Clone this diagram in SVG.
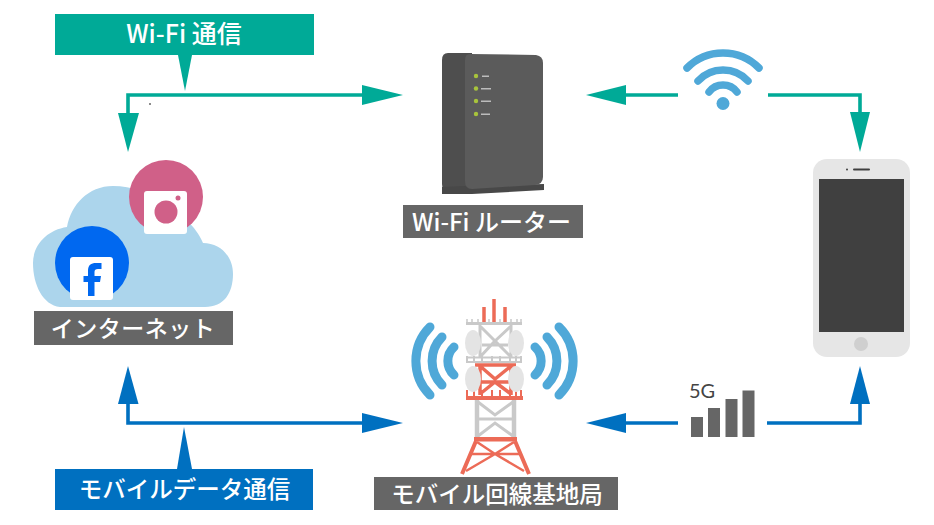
<svg xmlns="http://www.w3.org/2000/svg" width="934" height="525" viewBox="0 0 934 525">
<style>
  .lbl { font-family: "Noto Sans CJK JP", "Noto Sans", sans-serif; font-size: 23.500px; font-weight: 500; fill: #fff; text-anchor: middle; }
  .plate { fill: #666; }
  .teal { fill: #00aa97; }
  .blue { fill: #0070c0; }
  .wire { fill: none; stroke-width: 3.600; }
  .wire.t { stroke: #00aa97; }
  .wire.b { stroke: #0070c0; }
  .wave { fill: none; stroke: #4fa8d8; stroke-linecap: round; }
  .g { stroke: #c9c9c9; fill: none; }
  .r { stroke: #ec6b57; fill: none; }
  .dish { fill: #e4e4e4; }
  .led { fill: #a8c43c; }
  .tick { fill: #dcdcdc; opacity: .75; }
  .bar { fill: #666; }
</style>
<rect width="934" height="525" fill="#fff"/>

<g id="connectors">
  <path class="wire t" d="M365 95H128V114"/>
  <polygon class="teal" points="403,95 362,85 362,105"/>
  <polygon class="teal" points="128,152 118,113 139,113"/>
  <path class="wire t" d="M625 95H678"/>
  <polygon class="teal" points="586,95 626,85 626,105"/>
  <path class="wire t" d="M768 95H860V114"/>
  <polygon class="teal" points="860,152 850,112 870,112"/>
  <path class="wire b" d="M128 403V423H365"/>
  <polygon class="blue" points="128,366 118,404 138.500,404"/>
  <polygon class="blue" points="403,423 362,413 362,433"/>
  <path class="wire b" d="M625 423H678"/>
  <polygon class="blue" points="586,423 626,413 626,433"/>
  <path class="wire b" d="M767 423H860V403"/>
  <polygon class="blue" points="860,366 850,404 870,404"/>
</g>

<g id="wifi-callout">
  <rect class="teal" x="55" y="14" width="259" height="41"/>
  <polygon class="teal" points="178,55 192,55 185,91"/>
  <text class="lbl" x="184" y="43" style="font-size:25px">Wi-Fi 通信</text>
</g>
<circle id="speck" cx="150" cy="104" r="1" fill="#666"/>

<g id="mobile-callout">
  <rect class="blue" x="55" y="469" width="258" height="41"/>
  <polygon class="blue" points="177,469 192,469 184,427"/>
  <text class="lbl" x="184.500" y="498">モバイルデータ通信</text>
</g>

<g id="internet">
  <path fill="#acd5ec" d="M60 307C43 305 33 285 33 263C33 245 47 230 67 227C71 205 88 186 113 186C132 186 150 192 163 206C180 212 196 226 203 243C220 243 233 256 233 274C233 293 224 307 205 307Z"/>
  <circle cx="166" cy="197" r="37" fill="#d06088"/>
  <rect x="144" y="191" width="43" height="43" rx="3" fill="#fff"/>
  <circle cx="166" cy="212" r="11.500" fill="#d06088"/>
  <circle cx="178" cy="198" r="2.500" fill="#d06088"/>
  <circle cx="92" cy="263" r="37" fill="#0068f0"/>
  <rect x="70" y="257" width="43" height="43" rx="3" fill="#fff"/>
  <path fill="#0068f0" d="M88 296V282H83.500V276H88V271C88 265 91 263 96 263H101.500V269H98C95.500 269 94.500 270 94.500 272V276H101L100 282H94.500V296Z"/>
  <rect class="plate" x="34" y="311" width="199" height="34"/>
  <text class="lbl" x="133" y="337" style="font-size:23px" letter-spacing="0.500">インターネット</text>
</g>

<g id="router">
  <path fill="#4e4e4e" d="M448 53H472V190H447Q442 190 442 184V60Q442 53 448 53Z"/>
  <path fill="#484848" d="M442 187L465 186L544 184V190L472 194H442Z"/>
  <path fill="#5b5b5b" d="M470 54L536 55Q543 56 543 63V177Q543 184 535 185L472 189Q465 189 465 181V60Q465 54 470 54Z"/>
  <circle class="led" cx="476" cy="76" r="2.200"/>
  <circle class="led" cx="476" cy="88.500" r="2.200"/>
  <circle class="led" cx="476" cy="101" r="2.200"/>
  <circle class="led" cx="476" cy="114" r="2.200"/>
  <rect class="tick" x="482" y="75.500" width="7" height="1.500"/>
  <rect class="tick" x="481" y="88" width="10" height="1.500"/>
  <rect class="tick" x="481" y="100.500" width="10" height="1.500"/>
  <rect class="tick" x="481" y="113.500" width="9" height="1.500"/>
  <rect class="plate" x="403" y="205" width="180" height="33"/>
  <text class="lbl" x="491.500" y="231" style="font-size:24px">Wi-Fi ルーター</text>
</g>

<g id="wifi-signal">
  <path class="wave" stroke-width="7.500" d="M687 68A50.700 50.700 0 0 1 759 68"/>
  <path class="wave" stroke-width="7.500" d="M698 81A34 34 0 0 1 748 81"/>
  <path class="wave" stroke-width="7.500" d="M709 92A17.500 17.500 0 0 1 737 92"/>
  <circle cx="723" cy="103.500" r="6.500" fill="#4fa8d8"/>
</g>

<g id="phone">
  <rect x="813" y="159" width="97" height="198" rx="14" fill="#e6e6e6"/>
  <rect x="819" y="179" width="85" height="153" fill="#404040"/>
  <circle cx="861" cy="344" r="7" fill="#cfcfcf"/>
  <rect x="853" y="168.500" width="17" height="2" rx="1" fill="#404040"/>
  <circle cx="847" cy="169.500" r="1" fill="#404040"/>
</g>

<g id="signal-5g">
  <text x="689" y="398" font-family="Lato, 'Noto Sans', sans-serif" font-size="20" fill="#444">5G</text>
  <rect class="bar" x="691" y="417" width="12" height="20"/>
  <rect class="bar" x="708" y="408" width="12" height="29"/>
  <rect class="bar" x="725.500" y="399" width="12" height="38"/>
  <rect class="bar" x="742.500" y="390.500" width="12" height="46.500"/>
</g>

<g id="tower">
  <!-- radio waves either side of the mast -->
  <g class="wave" stroke-width="9">
    <path d="M430 327A48 48 0 0 0 430 395"/>
    <path d="M442 337A34 34 0 0 0 442 385"/>
    <path d="M454 347A19 19 0 0 0 454 375"/>
    <path d="M559 327A48 48 0 0 1 559 395"/>
    <path d="M547 337A34 34 0 0 1 547 385"/>
    <path d="M535 347A19 19 0 0 1 535 375"/>
  </g>
  <!-- aerials -->
  <path class="r" stroke-width="3.500" d="M484 307V323M505 307V323"/>
  <path class="r" stroke-width="3.500" d="M494 299V323"/>
  <!-- top grey section -->
  <path class="g" stroke-width="3" d="M466 323.500H522"/>
  <path class="g" stroke-width="1.500" d="M467 319V324M472 319V324M478 319V324M489 319V324M500 319V324M511 319V324M517 319V324M521 319V324"/>
  <path class="g" stroke-width="3" d="M480 325V357M511 325V357M480 326L495 341L511 326M482 345H508M480 357L495 341L511 357"/>
  <path class="g" stroke-width="2" d="M466 357.500H522M466 362H522M467 356V363M474 356V363M482 356V363M492 356V363M500 356V363M510 356V363M516 356V363M521 356V363"/>
  <!-- red section -->
  <path class="r" stroke-width="3.500" d="M480 365V395M511 365V395M475 365H516M480 366L495 379L511 366M478 382H513M480 394L495 382L511 394"/>
  <rect x="466" y="396" width="57" height="4" fill="#ec6b57"/>
  <path class="r" stroke-width="2" d="M467 390V397M474 390V397M482 390V397M492 390V397M500 390V397M510 390V397M516 390V397M521 390V397"/>
  <!-- lower grey section -->
  <path class="g" stroke-width="4.500" d="M477 400V437M514 400V437"/>
  <path class="g" stroke-width="3" d="M478 402L495 415L513 402M478 419H513M478 436L495 423L513 436"/>
  <!-- red base -->
  <rect x="474" y="437" width="43" height="4.500" fill="#ec6b57"/>
  <path class="r" stroke-width="4" d="M476 441L462 474M515 441L529 474"/>
  <path class="r" stroke-width="2.500" d="M477 442L495 454L524 471M514 442L495 454L466 471M471 454H520"/>
  <ellipse class="dish" cx="473" cy="343" rx="8" ry="13"/>
  <ellipse class="dish" cx="516" cy="343" rx="8" ry="13"/>
  <ellipse class="dish" cx="473" cy="379" rx="8" ry="13"/>
  <ellipse class="dish" cx="516" cy="379" rx="8" ry="13"/>
  <rect class="plate" x="374" y="477" width="244" height="33"/>
  <text class="lbl" x="497" y="503">モバイル回線基地局</text>
</g>
</svg>
